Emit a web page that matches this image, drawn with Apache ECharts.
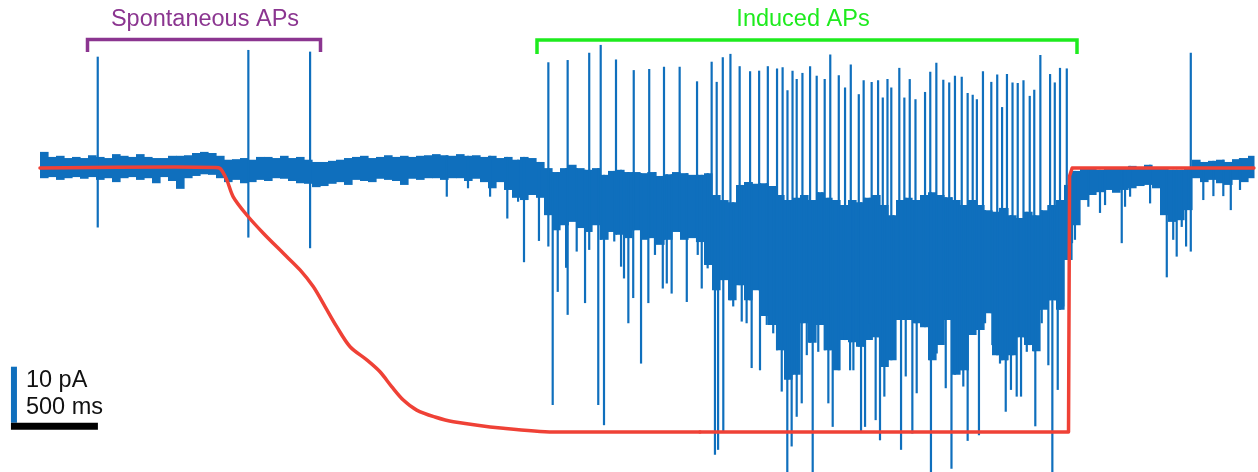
<!DOCTYPE html>
<html><head><meta charset="utf-8">
<script src="https://cdn.jsdelivr.net/npm/echarts@6/dist/echarts.min.js"></script>
<style>html,body{margin:0;padding:0;background:#fff}#c{width:1258px;height:472px}</style>
</head><body><div id="c"></div>
<script>
// ---- Data (time in ms, current in pA) ----
const BIN_MS = 46; // envelope bin width (ms)
// upper / lower envelope of the current trace per bin
const traceHigh = [
 2.7,1.8,2.0,1.6,1.8,1.6,2.1,1.8,1.6,2.3,
 2.0,1.8,2.3,1.8,1.6,1.6,2.0,2.0,2.1,2.5,
 2.7,2.5,2.0,1.3,1.4,1.6,1.3,1.8,1.8,1.6,
 2.0,1.6,1.8,1.3,0.9,0.9,1.1,1.3,1.6,1.8,
 2.0,1.6,1.8,2.1,1.8,2.0,1.8,2.0,2.1,2.3,
 2.1,2.0,2.3,2.0,2.1,1.8,2.0,1.6,1.8,1.3,
 1.8,1.6,0.9,-0.2,-0.9,-0.2,0.4,-0.2,-0.5,-0.2,
 -1.4,-0.7,-0.5,-0.9,-0.9,-1.1,-0.9,-1.6,-1.3,-0.9,
 -1.1,-1.4,-1.4,-1.1,-5.0,-5.9,-6.3,-3.2,-2.7,-3.0,
 -2.9,-3.4,-5.0,-5.9,-5.5,-5.0,-5.9,-4.5,-5.5,-5.9,
 -6.8,-5.9,-6.3,-5.5,-5.0,-6.8,-8.6,-5.9,-5.5,-5.9,
 -5.0,-4.5,-5.0,-5.4,-5.9,-6.8,-5.9,-6.8,-7.7,-8.0,
 -7.3,-8.6,-9.1,-8.0,-8.6,-7.7,-6.8,-5.9,-3.2,-0.7,
 -0.2,-0.2,-0.5,0.0,-0.2,0.0,0.2,0.0,0.4,0.0,
 -0.2,-0.5,-0.5,-0.2,1.3,0.9,1.1,1.3,0.9,1.4,
 1.6,2.0
];
const traceLow = [
 -2.0,-1.8,-2.3,-2.0,-1.8,-2.1,-1.8,-2.3,-2.0,-2.7,
 -2.0,-1.8,-2.3,-2.0,-2.9,-1.8,-2.5,-3.9,-2.0,-1.6,
 -1.3,-1.4,-2.0,-2.7,-2.3,-2.9,-2.7,-2.3,-2.5,-2.0,
 -2.1,-2.5,-2.9,-3.0,-3.6,-3.4,-3.0,-2.7,-3.2,-2.3,
 -2.5,-2.7,-2.1,-2.3,-2.5,-3.2,-2.1,-2.3,-2.0,-2.0,
 -2.3,-2.0,-2.0,-2.5,-2.1,-2.7,-3.8,-2.7,-4.1,-5.5,
 -5.9,-5.0,-5.5,-8.6,-11.3,-10.4,-9.8,-10.9,-11.6,-10.4,
 -13.0,-11.6,-12.1,-12.7,-11.3,-13.0,-12.7,-13.9,-13.0,-11.6,
 -13.0,-12.7,-13.4,-17.5,-22.0,-20.2,-23.8,-21.1,-23.8,-22.0,
 -26.6,-28.2,-32.7,-38.0,-37.1,-27.9,-31.4,-28.2,-32.7,-36.3,
 -30.9,-31.3,-32.1,-30.9,-30.4,-35.7,-34.5,-27.3,-27.3,-27.9,
 -28.6,-34.5,-31.8,-27.3,-37.1,-36.3,-30.0,-29.1,-26.1,-33.6,
 -34.5,-33.6,-30.4,-31.8,-32.9,-25.5,-23.8,-25.5,-16.6,-10.4,
 -5.9,-5.0,-4.5,-4.1,-4.6,-4.1,-3.8,-3.4,-3.2,-3.8,
 -8.6,-9.8,-9.5,-7.7,-2.0,-2.7,-2.3,-2.9,-3.2,-2.3,
 -2.7,-2.0
];
// spontaneous action potentials: [time ms, peak pA, trough pA]
const spontaneousAPs = [[332,19.7,-10.8],[1198,20.9,-12.6],[1553,20.6,-14.5],[6617,20.4,-15.1]];
// induced action potentials: [time ms, peak pA]
const inducedAPs = [
 [2923,18.7],[3034,19.1],[3158,20.4],[3224,21.8],[3312,19.2],[3414,17.3],[3503,17.5],[3588,17.9],[3678,17.9],[3778,15.3],
 [3862,18.8],[3891,15.2],[3926,19.6],[3970,20.2],[4023,18.0],[4083,17.1],[4135,17.2],[4185,18.0],[4238,17.6],[4270,17.8],
 [4298,13.7],[4327,17.2],[4351,15.7],[4384,16.8],[4428,18.0],[4466,16.3],[4512,15.7],[4544,20.1],[4593,16.4],[4629,14.2],
 [4662,18.3],[4708,13.0],[4736,15.5],[4782,15.2],[4819,15.5],[4846,12.4],[4873,15.7],[4895,14.2],[4941,17.7],[4970,12.4],
 [5001,15.7],[5034,12.1],[5089,13.4],[5119,17.0],[5154,18.6],[5194,15.6],[5228,15.1],[5261,16.3],[5300,16.1],[5334,13.2],
 [5363,12.9],[5387,12.1],[5422,17.1],[5470,15.2],[5504,16.5],[5532,10.7],[5560,16.6],[5592,15.1],[5622,15.0],[5655,15.5],
 [5691,12.7],[5717,13.8],[5752,20.0],[5808,16.6],[5835,15.1],[5865,17.7],[5904,17.6]
];
// fast inward (downward) transients: [time ms, minimum pA]
const downEvents = [
 [2339,-5.3],[2461,-3.8],[2588,-5.3],[2687,-9.2],[2749,-6.2],[2783,-17.0],[2869,-13.2],[2923,-14.2],[2948,-42.5],[2977,-22.3],
 [3025,-18.0],[3034,-26.4],[3086,-15.1],[3134,-24.3],[3158,-14.8],[3210,-42.5],[3243,-46.1],[3302,-13.3],[3341,-17.8],[3358,-19.9],
 [3383,-27.9],[3411,-23.4],[3456,-35.1],[3498,-24.3],[3536,-15.7],[3581,-21.7],[3604,-20.8],[3632,-22.6],[3719,-24.1],[3782,-15.7],
 [3805,-21.7],[3839,-18.1],[3881,-51.4],[3899,-50.5],[3929,-47.3],[3986,-24.9],[4035,-27.6],[4063,-27.9],[4092,-35.9],[4140,-36.3],
 [4179,-28.2],[4216,-29.7],[4265,-40.1],[4297,-54.5],[4322,-49.9],[4351,-44.6],[4380,-42.2],[4409,-33.6],[4443,-54.5],[4475,-33.0],
 [4495,-27.3],[4533,-42.2],[4558,-46.4],[4619,-29.1],[4658,-36.3],[4677,-36.3],[4721,-47.5],[4744,-46.4],[4772,-27.9],[4805,-45.2],
 [4830,-48.8],[4855,-41.0],[4907,-32.7],[4951,-50.5],[4978,-37.4],[5016,-47.6],[5041,-40.4],[5079,-27.9],[5123,-54.5],[5156,-33.3],
 [5208,-39.5],[5241,-53.9],[5277,-36.3],[5309,-39.2],[5334,-48.9],[5399,-47.9],[5434,-27.9],[5476,-31.8],[5520,-35.1],[5553,-43.7],
 [5583,-39.8],[5616,-41.0],[5641,-41.0],[5674,-33.0],[5723,-46.3],[5760,-27.9],[5798,-35.4],[5821,-54.5],[5852,-39.8],[5884,-24.9],
 [5904,-13.6],[5934,-13.6],[5951,-13.0],[6028,-7.1],[6095,-8.2],[6124,-6.8],[6220,-13.6],[6239,-7.1],[6268,-5.3],[6383,-6.5],
 [6479,-19.7],[6516,-13.0],[6536,-16.0],[6565,-10.7],[6590,-14.2],[6689,-5.9],[6747,-5.2],[6804,-5.2],[6847,-7.7],[6900,-4.1]
];
// stimulus (normalised, red trace): ramp-down phase and hold/step phase, [time ms, level]
const stimulusRamp = [
 [0,1.0],[776,1.004],[1006,1.002],[1035,0.999],[1074,0.955],[1111,0.891],[1189,0.822],[1284,0.753],[1399,0.677],[1495,0.614],
 [1572,0.55],[1639,0.475],[1706,0.399],[1783,0.323],[1879,0.273],[1955,0.228],[2022,0.172],[2089,0.121],[2166,0.083],[2271,0.057],
 [2377,0.039],[2664,0.014],[2952,0],[3795,0]
];
const stimulusHold = [[3795,0],[5914,0],[5920,0.97],[5935,1.0],[6980,1.0]];
const scaleBarPA = 10, scaleBarMs = 500;
const scaleBarOrigin = [-167, -45.66];
const spontLabel = 'Spontaneous APs', inducedLabel = 'Induced APs';

// ---- Chart ----
const BLUE = '#0f6fbd', RED = '#ef4136', PURPLE = '#8b3590', GREEN = '#1eeb1e';
const FONT = '23.5px "Liberation Sans", Arial, Helvetica, sans-serif';
const TRACE_END = 6980;
function binIndex(t){ return Math.max(0, Math.min(traceLow.length - 1, Math.floor(t / BIN_MS))); }
const bandData = traceHigh.map((h, i) => [i * BIN_MS, Math.min((i + 1) * BIN_MS, TRACE_END), h, traceLow[i]]);
const lineData = [];
spontaneousAPs.forEach(([t, p, tr]) => lineData.push([t, p, tr]));
inducedAPs.forEach(([t, p]) => lineData.push([t, p, traceLow[binIndex(t)]]));
downEvents.forEach(([t, d]) => lineData.push([t, traceHigh[binIndex(t)], d]));

const chart = echarts.init(document.getElementById('c'));
chart.setOption({
  animation: false,
  backgroundColor: '#fff',
  grid: { left: 0, right: 4, top: 0, bottom: 0 },
  xAxis: { type: 'value', min: -230, max: 6980.5, show: false },
  yAxis: [
    { type: 'value', min: -54.46, max: 29.82, show: false },
    { type: 'value', min: -0.1515, max: 1.6364, show: false }
  ],
  series: [
    {
      type: 'custom', z: 2, data: bandData,
      renderItem: (params, api) => {
        const a = api.coord([api.value(0), api.value(2)]);
        const b = api.coord([api.value(1), api.value(3)]);
        return { type: 'rect', shape: { x: a[0], y: a[1], width: b[0] - a[0] + 0.6, height: b[1] - a[1] }, style: { fill: BLUE } };
      }
    },
    {
      type: 'custom', z: 3, data: lineData,
      renderItem: (params, api) => {
        const a = api.coord([api.value(0), api.value(1)]);
        const b = api.coord([api.value(0), api.value(2)]);
        return { type: 'line', shape: { x1: a[0], y1: a[1], x2: b[0], y2: b[1] }, style: { stroke: BLUE, lineWidth: 2.2 } };
      }
    },
    {
      type: 'line', yAxisIndex: 1, z: 5, data: stimulusRamp, showSymbol: false, symbol: 'none', smooth: 0.3,
      lineStyle: { color: RED, width: 3.5, join: 'round', cap: 'round' }
    },
    {
      type: 'line', yAxisIndex: 1, z: 5, data: stimulusHold, showSymbol: false, symbol: 'none', smooth: false,
      lineStyle: { color: RED, width: 3.5, join: 'round', cap: 'round' }
    },
    {
      type: 'custom', z: 6, data: [[scaleBarOrigin[0], scaleBarOrigin[1], scaleBarMs, scaleBarPA]],
      renderItem: (params, api) => {
        const t0 = api.value(0), y0 = api.value(1), dt = api.value(2), dy = api.value(3);
        const o = api.coord([t0, y0]), r = api.coord([t0 + dt, y0]), u = api.coord([t0, y0 + dy]);
        return { type: 'group', children: [
          { type: 'rect', shape: { x: o[0], y: u[1], width: 6, height: o[1] - u[1] }, style: { fill: BLUE } },
          { type: 'rect', shape: { x: o[0], y: o[1], width: r[0] - o[0], height: 7 }, style: { fill: '#000' } },
          { type: 'text', style: { text: scaleBarPA + ' pA', x: o[0] + 15, y: o[1] - 42.5, font: FONT, fill: '#111', align: 'left', verticalAlign: 'middle' } },
          { type: 'text', style: { text: scaleBarMs + ' ms', x: o[0] + 15, y: o[1] - 15, font: FONT, fill: '#111', align: 'left', verticalAlign: 'middle' } }
        ]};
      }
    }
  ],
  graphic: [
    { type: 'polyline', shape: { points: [[87.5, 52], [87.5, 39.5], [320.5, 39.5], [320.5, 52]] }, style: { stroke: PURPLE, lineWidth: 3.5, fill: null } },
    { type: 'text', x: 205, y: 20, style: { text: spontLabel, font: FONT, fill: PURPLE, align: 'center', verticalAlign: 'middle' } },
    { type: 'polyline', shape: { points: [[537, 54], [537, 40], [1077, 40], [1077, 54]] }, style: { stroke: GREEN, lineWidth: 3.5, fill: null } },
    { type: 'text', x: 803, y: 20, style: { text: inducedLabel, font: FONT, fill: GREEN, align: 'center', verticalAlign: 'middle' } }
  ]
});
</script>
</body></html>
